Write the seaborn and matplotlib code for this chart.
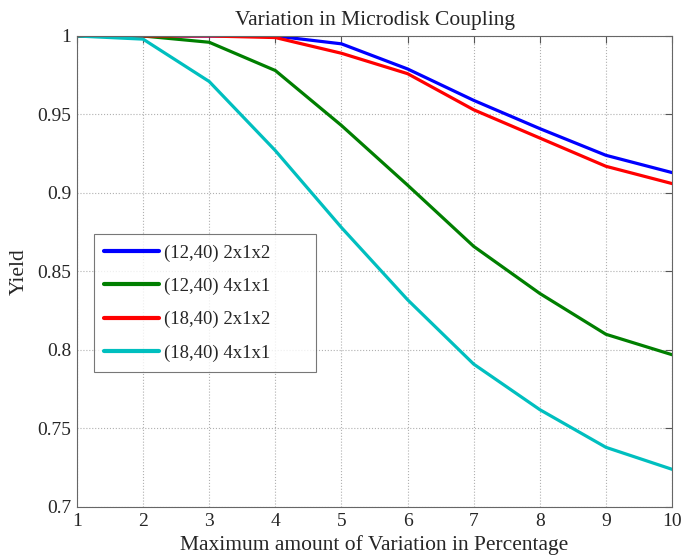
import numpy as np
import pandas as pd
import matplotlib
matplotlib.use("Agg")
import matplotlib.pyplot as plt
import seaborn as sns

# -- data ------------------------------------------
variation = [1, 2, 3, 4, 5, 6, 7, 8, 9, 10]
yield_12_2x1x2 = [1.000, 1.000, 1.000, 1.000, 0.995, 0.979, 0.959, 0.941, 0.924, 0.913]
yield_12_4x1x1 = [1.000, 1.000, 0.996, 0.978, 0.943, 0.905, 0.866, 0.836, 0.810, 0.797]
yield_18_2x1x2 = [1.000, 1.000, 1.000, 0.999, 0.989, 0.976, 0.953, 0.935, 0.917, 0.906]
yield_18_4x1x1 = [1.000, 0.998, 0.971, 0.927, 0.878, 0.832, 0.791, 0.762, 0.738, 0.724]
labels = ["(12,40) 2x1x2", "(12,40) 4x1x1", "(18,40) 2x1x2", "(18,40) 4x1x1"]
colors = ["#0000ff", "#007f00", "#ff0000", "#00bfbf"]

series = [yield_12_2x1x2, yield_12_4x1x1, yield_18_2x1x2, yield_18_4x1x1]
df = pd.concat([pd.DataFrame({"x": variation, "y": s, "case": lab})
                for s, lab in zip(series, labels)], ignore_index=True)

sns.set_style("white")
plt.rcParams['font.family'] = ['Liberation Serif', 'DejaVu Serif']

fig = plt.figure(figsize=(6.83, 5.58), dpi=100)
ax = fig.add_axes([0.1127, 0.0914, 0.8713, 0.8441])

sns.lineplot(data=df, x="x", y="y", hue="case", palette=dict(zip(labels, colors)),
             linewidth=2.3, ax=ax)

ax.set_xlim(1, 10)
ax.set_ylim(0.7, 1.0)
ax.set_xticks(variation)
ax.set_yticks([0.7, 0.75, 0.8, 0.85, 0.9, 0.95, 1.0])
ax.set_yticklabels(["0.7", "0.75", "0.8", "0.85", "0.9", "0.95", "1"])
ax.grid(True, linestyle=":", color="#b0b0b0", linewidth=0.8)
ax.tick_params(direction="in", top=True, right=True, length=5, labelsize=14,
               color="#555555", pad=4)
for sp in ax.spines.values():
    sp.set_color("#666666")
    sp.set_linewidth(0.8)

ax.set_title("Variation in Microdisk Coupling", fontsize=15.5, pad=8)
ax.set_xlabel("Maximum amount of Variation in Percentage", fontsize=15.5, labelpad=4)
ax.set_ylabel("Yield", fontsize=15.5, labelpad=6)

# legend box is wider than its text, like in the original
leg = ax.legend(loc="lower left", bbox_to_anchor=(0.0286, 0.287, 0.373, 0.287),
                mode="expand", fontsize=13.5,
                frameon=True, fancybox=False, edgecolor="#555555",
                borderaxespad=0, handlelength=2.9, handletextpad=0.3,
                labelspacing=0.85, borderpad=0.55)
leg.get_frame().set_linewidth(0.8)
for h in leg.get_lines():
    h.set_linewidth(3)

fig.savefig("out.png", dpi=100)
